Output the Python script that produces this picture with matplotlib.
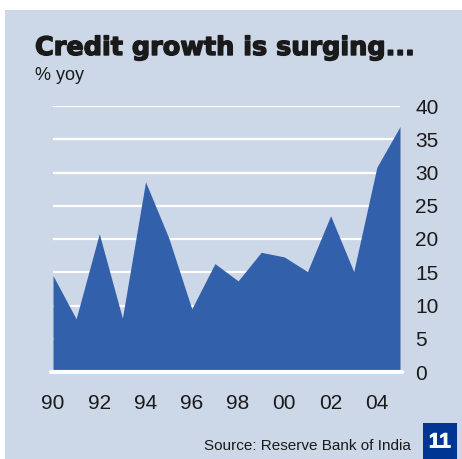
import matplotlib.pyplot as plt
import matplotlib.patheffects as pe
from matplotlib.patches import Rectangle

# annual bank credit growth, % year on year
years = [1990, 1991, 1992, 1993, 1994, 1995, 1996, 1997,
         1998, 1999, 2000, 2001, 2002, 2003, 2004, 2005]
credit_growth = [14.5, 8.0, 20.8, 8.1, 28.6, 20.2, 9.5, 16.3,
                 13.7, 18.0, 17.3, 15.1, 23.5, 15.1, 30.8, 36.9]

tick_years = [1990, 1992, 1994, 1996, 1998, 2000, 2002, 2004]
tick_labels = ["90", "92", "94", "96", "98", "00", "02", "04"]
y_ticks = [0, 5, 10, 15, 20, 25, 30, 35, 40]

PANEL = "#ccd7e8"
FILL = "#3360aa"
NAVY = "#003594"
INK = "#1a1a1a"
W, H = 462, 459

plt.rcParams["font.family"] = ["Liberation Sans", "DejaVu Sans"]

fig = plt.figure(figsize=(W / 100, H / 100), dpi=100, facecolor="white")

# light blue backing panel
fig.patches.append(Rectangle((5 / W, 0), 1 - 5 / W, 1 - 10 / H,
                             transform=fig.transFigure, facecolor=PANEL,
                             edgecolor="none", zorder=-2))

ax = fig.add_axes([53 / W, (H - 372) / H, 347 / W, 266 / H])
ax.set_facecolor("none")
ax.set_zorder(1)
ax.set_xlim(1990, 2005)
ax.set_ylim(0, 40)

for v in y_ticks[1:]:
    ax.axhline(v, color="white", lw=1.6, zorder=1)
ax.fill_between(years, credit_growth, 0, color=FILL, lw=0, zorder=2)
ax.plot([1989.9, 2005.1], [0, 0], color="white", lw=3, zorder=3,
        clip_on=False, solid_capstyle="round")

for s in ax.spines.values():
    s.set_visible(False)

ax.set_yticks(y_ticks)
ax.yaxis.tick_right()
ax.tick_params(axis="y", length=0, pad=11, labelsize=15, labelcolor=INK)
ax.set_xticks(tick_years)
ax.set_xticklabels(tick_labels)
ax.tick_params(axis="x", length=0, pad=16, labelsize=15, labelcolor=INK)

fig.text(35 / W, 1 - 55 / H, "Credit growth is surging...", fontsize=18.4,
         fontweight="bold", family="DejaVu Sans", color=INK, ha="left",
         va="baseline",
         path_effects=[pe.withStroke(linewidth=1.0, foreground=INK)])
fig.text(35 / W, 1 - 80 / H, "% yoy", fontsize=13, color=INK,
         ha="left", va="baseline")
fig.text(411 / W, 1 - 450 / H, "Source: Reserve Bank of India", fontsize=11,
         color=INK, ha="right", va="baseline")

fig.patches.append(Rectangle((423 / W, 0), 34 / W, 36 / H,
                             transform=fig.transFigure, facecolor=NAVY,
                             edgecolor="none", zorder=-1))
fig.text(440 / W, 17 / H, "11", fontsize=15, fontweight="bold",
         color="white", ha="center", va="center",
         path_effects=[pe.withStroke(linewidth=0.6, foreground="white")])

fig.savefig("out.png", dpi=100, facecolor="white")
